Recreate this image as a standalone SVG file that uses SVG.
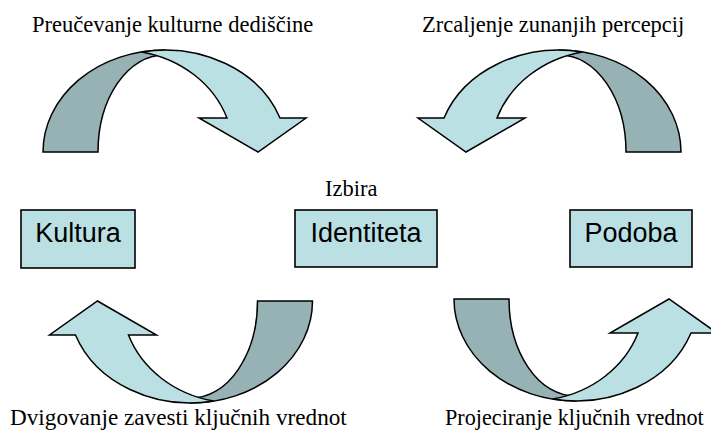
<svg xmlns="http://www.w3.org/2000/svg" width="711" height="447" viewBox="0 0 711 447">
  <style>
    .back{fill:#96B2B5;stroke:#000;stroke-width:1.5;stroke-linejoin:miter}
    .front{fill:#BBE0E3;stroke:#000;stroke-width:1.5;stroke-linejoin:miter}
    .box{fill:#BBE0E3;stroke:#000;stroke-width:1.6}
    .lbl{font-family:"Liberation Sans",Arial,sans-serif;font-size:27px;fill:#000;text-anchor:middle}
    .cap{font-family:"Liberation Serif","Times New Roman",serif;font-size:22.5px;fill:#000}
  </style>
  <defs>
    <!-- curved arrow: darker back band on the left, lighter arrow body ending in a down-pointing head -->
    <g id="curved">
      <path class="back" d="M43 152 A122 102 0 0 1 165 50 L164 55 A66 97 0 0 0 98 152 Z"/>
      <path class="front" d="M141.7 51.9 A122 102 0 0 1 280 118 L306 118 L258 152 L199 118 L227 118 A113.5 102 0 0 0 141.7 51.9 Z"/>
    </g>
  </defs>

  <g id="connectors">
    <use id="arrow-top-left" href="#curved"/>
    <use id="arrow-top-right" href="#curved" transform="matrix(-1 0 0 1 724 0)"/>
    <use id="arrow-bottom-left" href="#curved" transform="matrix(-1 0 0 -1 355.5 453)"/>
    <use id="arrow-bottom-right" href="#curved" transform="matrix(1 0 0 -1 411 451)"/>
  </g>

  <g id="labels">
    <text class="cap" x="32" y="32">Preučevanje kulturne dediščine</text>
    <text class="cap" x="422" y="32">Zrcaljenje zunanjih percepcij</text>
    <text class="cap" x="325" y="196">Izbira</text>
    <text class="cap" x="10" y="425" style="font-size:23.2px">Dvigovanje zavesti ključnih vrednot</text>
    <text class="cap" x="445" y="425" style="font-size:22.2px">Projeciranje ključnih vrednot</text>
  </g>

  <g id="kultura">
    <rect class="box" x="21" y="210" width="114" height="58"/>
    <text class="lbl" x="78" y="242">Kultura</text>
  </g>
  <g id="identiteta">
    <rect class="box" x="295" y="210" width="142" height="57"/>
    <text class="lbl" x="366" y="242">Identiteta</text>
  </g>
  <g id="podoba">
    <rect class="box" x="570" y="210" width="122" height="57"/>
    <text class="lbl" x="631" y="242">Podoba</text>
  </g>
</svg>
